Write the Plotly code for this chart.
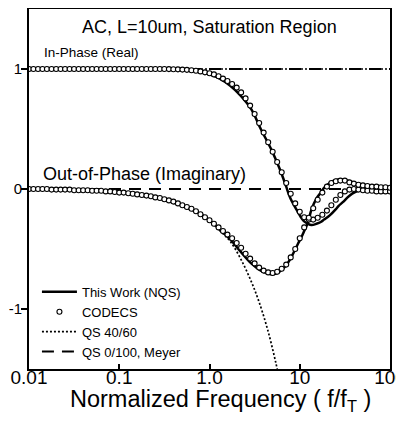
import plotly.graph_objects as go

# ---------------- data ----------------
# This Work (NQS) - solid curves
f_nqs = [0.01, 0.03, 0.1, 0.2, 0.3, 0.5, 0.8, 1.0, 1.3, 1.7, 2.2, 2.9, 3.7, 4.8, 5.5, 6.2,
         7.0, 7.9, 9.5, 10.3, 11.2, 12.3, 13.5, 15.3, 17.1, 18.6, 21.5, 25, 27, 30, 35, 41,
         50, 60, 80, 100]
nqs_real = [1.0, 1.0, 1.0, 1.0, 0.998, 0.993, 0.975, 0.955, 0.92, 0.86, 0.78, 0.665, 0.50,
            0.335, 0.235, 0.14, 0.03, -0.08, -0.19, -0.235, -0.27, -0.29, -0.30, -0.29,
            -0.275, -0.255, -0.22, -0.17, -0.14, -0.11, -0.06, -0.025, -0.005, 0.0,
            -0.005, -0.01]
nqs_imag = [0.0, -0.005, -0.03, -0.06, -0.085, -0.14, -0.21, -0.26, -0.34, -0.42, -0.52,
            -0.62, -0.68, -0.71, -0.705, -0.68, -0.64, -0.58, -0.46, -0.41, -0.35, -0.28,
            -0.17, -0.08, -0.03, 0.01, 0.05, 0.075, 0.08, 0.078, 0.068, 0.05, 0.035, 0.025,
            0.015, 0.01]

# CODECS - open circles
f_codecs = [0.01, 0.0112, 0.0126, 0.0141, 0.0158, 0.0178, 0.02, 0.0224, 0.0251, 0.0282,
            0.0316, 0.0355, 0.0398, 0.0447, 0.0501, 0.0562, 0.0631, 0.0708, 0.0794, 0.0891,
            0.1, 0.112, 0.126, 0.141, 0.158, 0.178, 0.2, 0.224, 0.251, 0.282,
            0.316, 0.355, 0.398, 0.447, 0.501, 0.562, 0.631, 0.708, 0.794, 0.891,
            1.0, 1.12, 1.26, 1.41, 1.58, 1.78, 2.0, 2.24, 2.51, 2.82,
            3.16, 3.55, 3.98, 4.47, 5.01, 5.62, 6.31, 7.08, 7.94, 8.91,
            10, 11.2, 12.6, 14.1, 15.8, 17.8, 20, 22.4, 25.1, 28.2,
            31.6, 35.5, 39.8, 44.7, 50.1, 56.2, 63.1, 70.8, 79.4, 89.1, 100]
codecs_real = [1.0, 1.0, 1.0, 1.0, 1.0, 1.0, 1.0, 1.0, 1.0, 1.0,
               1.0, 1.0, 1.0, 1.0, 1.0, 1.0, 1.0, 1.0, 1.0, 1.0,
               1.0, 1.0, 1.0, 1.0, 1.0, 1.0, 1.0, 1.0, 1.0, 1.0,
               1.0, 0.999, 0.998, 0.997, 0.995, 0.993, 0.99, 0.985, 0.98, 0.972,
               0.965, 0.955, 0.94, 0.92, 0.90, 0.875, 0.845, 0.805, 0.755, 0.695,
               0.625, 0.55, 0.47, 0.39, 0.31, 0.225, 0.14, 0.05, -0.04, -0.12,
               -0.19, -0.235, -0.255, -0.255, -0.24, -0.215, -0.18, -0.135, -0.09, -0.05,
               -0.02, -0.005, 0.0, -0.005, -0.01, -0.015, -0.015, -0.02, -0.02, -0.02, -0.02]
codecs_imag = [0.0, 0.0, 0.0, 0.0, 0.0, -0.005, -0.005, -0.005, -0.005, -0.005,
               -0.01, -0.01, -0.01, -0.01, -0.015, -0.015, -0.015, -0.02, -0.02, -0.025,
               -0.03, -0.03, -0.035, -0.04, -0.045, -0.05, -0.055, -0.06, -0.07, -0.075,
               -0.085, -0.095, -0.105, -0.12, -0.135, -0.15, -0.165, -0.185, -0.21, -0.235,
               -0.26, -0.29, -0.32, -0.35, -0.38, -0.41, -0.45, -0.49, -0.54, -0.58,
               -0.62, -0.655, -0.68, -0.695, -0.70, -0.69, -0.665, -0.63, -0.57, -0.50,
               -0.41, -0.32, -0.24, -0.16, -0.09, -0.03, 0.02, 0.05, 0.065, 0.07,
               0.07, 0.055, 0.045, 0.035, 0.03, 0.025, 0.02, 0.02, 0.015, 0.015, 0.01]

# QS 40/60 - dotted
f_qs4060 = [0.01, 0.03, 0.1, 0.3, 0.6, 1.0, 1.4, 1.71, 2.21, 2.86, 3.5, 4.4, 5.4, 6.0]
qs4060_imag = [0.0, -0.008, -0.027, -0.08, -0.16, -0.265, -0.37, -0.44, -0.58, -0.76,
               -0.93, -1.17, -1.44, -1.6]
f_qs_flat = [0.01, 100]
qs4060_real = [1.0, 1.0]

# QS 0/100, Meyer - dashed
qs0100_real = [1.0, 1.0]
qs0100_imag = [0.0, 0.0]

x_tickvals = [0.01, 0.1, 1, 10, 100]
x_ticktext = ["0.01", "0.1", "1.0", "10", "100"]
y_tickvals = [1, 0, -1]
y_ticktext = ["1", "0", "-1"]

FONT = "Liberation Sans, Arial, sans-serif"
BLACK = "black"
DOT = "2px,2px"
DASH = "12px,8px"

fig = go.Figure()

# QS 0/100, Meyer (dashed)
fig.add_trace(go.Scatter(x=f_qs_flat, y=qs0100_imag, mode="lines", name="QS 0/100, Meyer",
                         legendgroup="meyer", showlegend=False,
                         line=dict(color=BLACK, width=1.8, dash=DASH)))
fig.add_trace(go.Scatter(x=f_qs_flat, y=qs0100_real, mode="lines", name="QS 0/100, Meyer",
                         legendgroup="meyer", showlegend=False,
                         line=dict(color=BLACK, width=1.8, dash=DASH)))
# QS 40/60 (dotted)
fig.add_trace(go.Scatter(x=f_qs_flat, y=qs4060_real, mode="lines", name="QS 40/60",
                         legendgroup="qs", showlegend=False,
                         line=dict(color=BLACK, width=1.7, dash=DOT)))
fig.add_trace(go.Scatter(x=f_qs4060, y=qs4060_imag, mode="lines", name="QS 40/60",
                         legendgroup="qs", showlegend=False, line_shape="spline",
                         line=dict(color=BLACK, width=1.7, dash=DOT)))
# NQS (solid)
fig.add_trace(go.Scatter(x=f_nqs, y=nqs_real, mode="lines", name="This Work (NQS)",
                         legendgroup="nqs", showlegend=True, line_shape="spline",
                         line=dict(color=BLACK, width=2.5)))
fig.add_trace(go.Scatter(x=f_nqs, y=nqs_imag, mode="lines", name="This Work (NQS)",
                         legendgroup="nqs", showlegend=False, line_shape="spline",
                         line=dict(color=BLACK, width=2.5)))
# CODECS (circles)
marker_c = dict(symbol="circle", size=5, color="white", line=dict(color=BLACK, width=1.1))
fig.add_trace(go.Scatter(x=f_codecs, y=codecs_real, mode="markers", name="CODECS",
                         legendgroup="codecs", showlegend=True, marker=marker_c))
fig.add_trace(go.Scatter(x=f_codecs, y=codecs_imag, mode="markers", name="CODECS",
                         legendgroup="codecs", showlegend=False, marker=marker_c))
# legend entries for QS curves (in reference order)
fig.add_trace(go.Scatter(x=[None], y=[None], mode="lines", name="QS 40/60",
                         legendgroup="qs", showlegend=True,
                         line=dict(color=BLACK, width=1.7, dash=DOT)))
fig.add_trace(go.Scatter(x=[None], y=[None], mode="lines", name="QS 0/100, Meyer",
                         legendgroup="meyer", showlegend=True,
                         line=dict(color=BLACK, width=1.8, dash=DASH)))

# the page adds an 8px body margin, so the margins below are offset to compensate
fig.update_layout(
    width=404, height=422,
    margin=dict(l=21, r=22, t=1, b=61, autoexpand=False),
    paper_bgcolor="white", plot_bgcolor="white",
    font=dict(family=FONT, color=BLACK),
    legend=dict(x=0.022, y=0.256, xanchor="left", yanchor="top",
                bgcolor="rgba(0,0,0,0)", borderwidth=0,
                font=dict(size=13, family=FONT), itemwidth=35,
                traceorder="normal", tracegroupgap=0),
    showlegend=True,
)

fig.update_xaxes(type="log", range=[-2, 2], tickvals=x_tickvals, ticktext=x_ticktext,
                 ticks="inside", ticklen=5, tickwidth=1.5, tickcolor=BLACK,
                 showline=True, linewidth=2, linecolor=BLACK, mirror=True,
                 showgrid=False, zeroline=False, automargin=False,
                 ticklabelstandoff=-10,
                 tickfont=dict(size=19, family=FONT))
fig.update_yaxes(range=[-1.5, 1.5], tickvals=y_tickvals, ticktext=y_ticktext,
                 ticks="outside", ticklen=6, tickwidth=1.5, tickcolor=BLACK,
                 showline=True, linewidth=2, linecolor=BLACK, mirror=True,
                 showgrid=False, zeroline=False, automargin=False,
                 ticklabelstandoff=-4,
                 tickfont=dict(size=15, family=FONT))

# axis title (placed as annotation below the tick labels)
fig.add_annotation(text="Normalized Frequency ( f/f<sub>T</sub> )", xref="paper", yref="paper",
                   x=0.53, y=-0.087, yanchor="middle", showarrow=False,
                   font=dict(size=23.5, family=FONT))
fig.add_annotation(text="AC, L=10um, Saturation Region", xref="paper", yref="y",
                   x=0.5, y=1.35, showarrow=False, font=dict(size=18, family=FONT))
fig.add_annotation(text="In-Phase (Real)", xref="paper", yref="y",
                   x=0.036, y=1.135, xanchor="left", showarrow=False,
                   font=dict(size=13.5, family=FONT))
fig.add_annotation(text="Out-of-Phase (Imaginary)", xref="paper", yref="y",
                   x=0.033, y=0.125, xanchor="left", showarrow=False,
                   font=dict(size=18, family=FONT))

fig.write_html("out.html")
